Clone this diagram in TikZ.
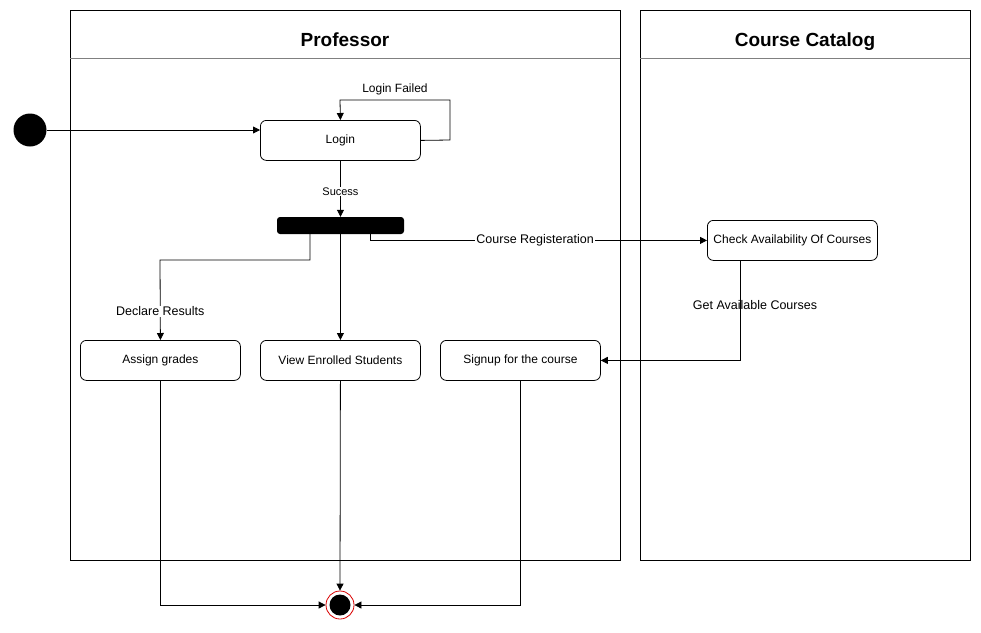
\documentclass[tikz,border=0pt]{standalone}
\usepackage{fontspec}
\setmainfont{Liberation Sans}
\usetikzlibrary{arrows.meta}
\begin{document}
\begin{tikzpicture}[x=1pt,y=-1pt,
  lane/.style={draw=black,line width=0.8pt},
  act/.style={draw=black,line width=0.8pt,rounded corners=6pt,minimum width=160pt,minimum height=40pt,inner sep=0pt,font=\fontsize{12}{14}\selectfont,fill=white},
  flow/.style={line width=0.8pt,-{Triangle[length=7pt,width=7pt]}},
  lbl/.style={fill=white,inner sep=1pt,font=\fontsize{12.5}{14}\selectfont},
  title/.style={font=\bfseries\fontsize{19}{22}\selectfont,anchor=base}]
\useasboundingbox (0,0) rectangle (981,632);
% lanes
\draw[lane] (70,10) rectangle (620,560);
\draw[gray,line width=0.8pt] (70,58) -- (620,58);
\node[title] (tprof) at (345,46) {Professor};
\draw[lane] (640,10) rectangle (970,560);
\draw[gray,line width=0.8pt] (640,58) -- (970,58);
\node[title] (tcat) at (805,46) {Course Catalog};
% nodes
\node[circle,fill=black,minimum size=33pt,inner sep=0pt] (start) at (30,130) {};
\node[act,anchor=north west] (login) at (260,120) {Login};
\node[fill=black,rounded corners=3pt,minimum width=127pt,minimum height=17pt,inner sep=0pt] (bar) at (340.5,225.5) {};
\node[act,minimum width=170pt,anchor=north west] (check) at (707,220) {Check Availability Of Courses};
\node[act,anchor=north west] (assign) at (80,340) {Assign grades};
\node[act,anchor=north west] (view) at (260,340) {View Enrolled Students};
\node[act,anchor=north west] (signup) at (440,340) {Signup for the course};
\node[circle,draw=red!85!black,line width=0.8pt,fill=white,minimum size=28pt,inner sep=0pt] (endo) at (340,605) {};
\node[circle,fill=black,minimum size=21pt,inner sep=0pt] (endi) at (340,605) {};
% coordinates
\coordinate (in) at (260,130);
\coordinate (lf1) at (450,140);
\coordinate (lf2) at (450,100);
\coordinate (lf3) at (340,100);
\coordinate (b1) at (310,234);
\coordinate (b3) at (370,234);
\coordinate (dr1) at (160,260);
\coordinate (c1) at (740,260);
% edges
\draw[flow] (start.east) -- (in);
\draw[flow] (login.east) -- (lf1) -- (lf2) -- (lf3) -- (login.north);
\node[font=\fontsize{12}{14}\selectfont] (lflbl) at (395,89) {Login Failed};
\draw[flow] (login.south) -- node[lbl,pos=0.55,font=\fontsize{11}{13}\selectfont] (suc) {Sucess} (bar.north);
\draw[flow] (b1) |- (dr1) -- node[lbl,pos=0.64] (dr) {Declare Results} (assign.north);
\draw[flow] (bar.south) -- (view.north);
\draw[flow] (b3) |- node[lbl,pos=0.745] (cr) {Course Registeration} (check.west);
\draw[flow] (c1) |- (signup.east);
\node[lbl,fill=none] (gac) at (755,305) {Get Available Courses};
\draw[flow] (assign.south) |- (endo.west);
\draw[flow] (view.south) -- (endo.north);
\draw[flow] (signup.south) |- (endo.east);
\end{tikzpicture}
\end{document}
